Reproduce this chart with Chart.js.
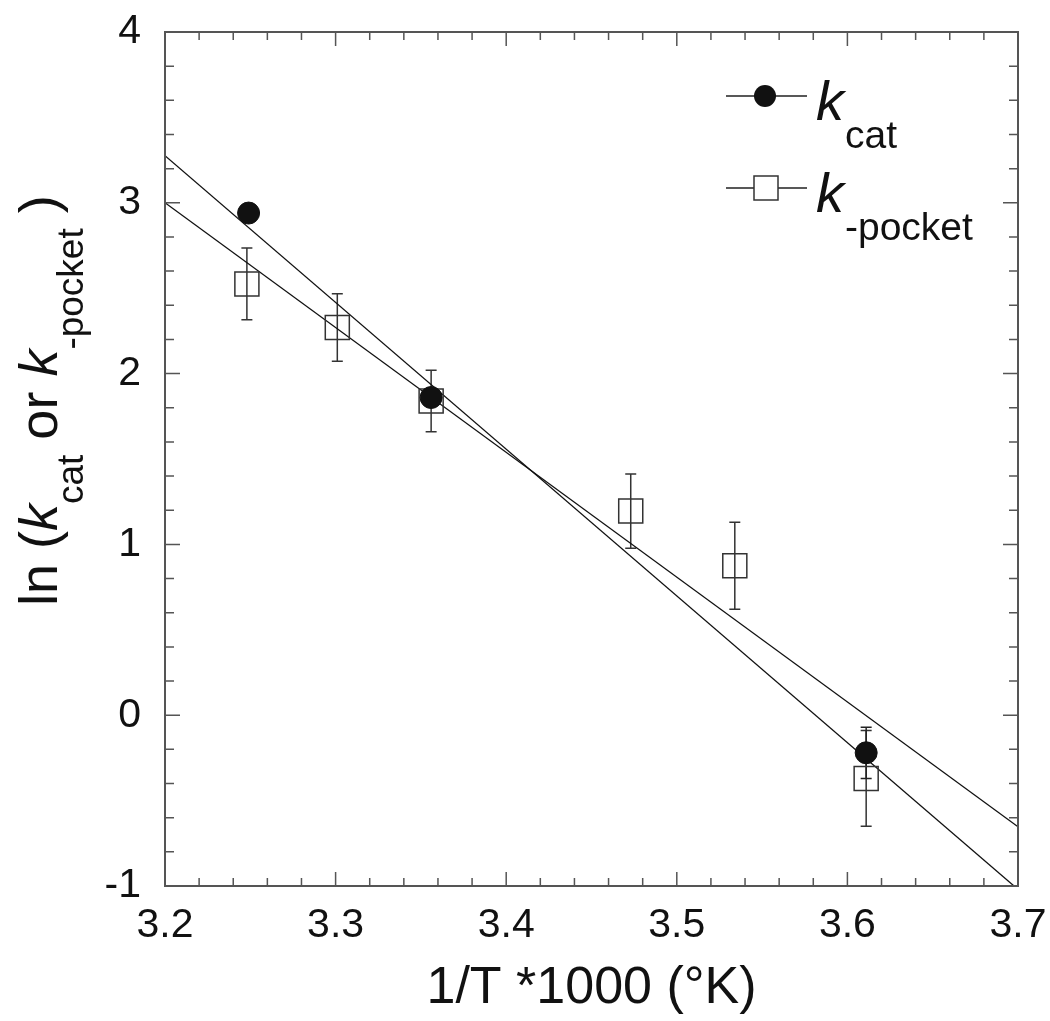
<!DOCTYPE html>
<html>
<head>
<meta charset="utf-8">
<script src="https://cdn.jsdelivr.net/npm/chart.js@4.4.0/dist/chart.umd.min.js"></script>
<style>
    html, body { margin: 0; padding: 0; background: #fff; }
    #wrap { width: 1050px; height: 1021px; }
</style>
</head>
<body>
<div id="wrap"><canvas id="arrhenius" width="1050" height="1021"></canvas></div>
<script>
// Arrhenius plot - ln(kcat) and ln(k-pocket) vs 1/T
const FONT = "'Liberation Sans', Arial, Helvetica, sans-serif";

// measured points
const kcatX = [3.249, 3.356, 3.611];
const kcatY = [2.94, 1.86, -0.22];
const kcatErr = [0.05, 0.05, 0.15];

const pocketX = [3.248, 3.301, 3.356, 3.473, 3.534, 3.611];
const pocketY = [2.525, 2.27, 1.84, 1.195, 0.875, -0.37];
const pocketErr = [0.21, 0.197, 0.18, 0.217, 0.255, 0.28];

// linear fits, evaluated at the axis ends
const fitX = [3.2, 3.7];
const kcatFitY = [3.276, -1.02];
const pocketFitY = [3.0, -0.653];

// axes
const xMin = 3.2, xMax = 3.7, xStep = 0.1, xMinor = 0.02;
const yMin = -1, yMax = 4, yStep = 1, yMinor = 0.2;

function toPoints(xs, ys) {
    return xs.map((x, i) => ({ x: x, y: ys[i] }));
}

// error bars, inward ticks, frame, titles and legend
const decorations = {
    id: 'decorations',
    beforeDatasetsDraw(chart) {
        const ctx = chart.ctx;
        const xs = chart.scales.x, ys = chart.scales.y;
        const bars = [
            [pocketX, pocketY, pocketErr, '#333'],
            [kcatX, kcatY, kcatErr, '#222']
        ];
        ctx.save();
        ctx.lineWidth = 1.5;
        bars.forEach(([bx, by, be, col]) => {
            ctx.strokeStyle = col;
            bx.forEach((x, i) => {
                const px = xs.getPixelForValue(x);
                const top = ys.getPixelForValue(by[i] + be[i]);
                const bot = ys.getPixelForValue(by[i] - be[i]);
                ctx.beginPath();
                ctx.moveTo(px, top); ctx.lineTo(px, bot);
                ctx.moveTo(px - 5.5, top); ctx.lineTo(px + 5.5, top);
                ctx.moveTo(px - 5.5, bot); ctx.lineTo(px + 5.5, bot);
                ctx.stroke();
            });
        });
        ctx.restore();
    },
    afterDraw(chart) {
        const ctx = chart.ctx;
        const a = chart.chartArea;
        const xs = chart.scales.x, ys = chart.scales.y;
        ctx.save();

        // frame
        ctx.strokeStyle = '#555';
        ctx.lineWidth = 2;
        ctx.strokeRect(a.left, a.top, a.right - a.left, a.bottom - a.top);

        // inward ticks on all four sides
        ctx.lineWidth = 1.5;
        ctx.beginPath();
        const nx = Math.round((xMax - xMin) / xMinor);
        for (let i = 1; i < nx; i++) {
            const v = xMin + i * xMinor;
            const len = (i % 5 === 0) ? 14 : 8;
            const px = xs.getPixelForValue(v);
            ctx.moveTo(px, a.bottom); ctx.lineTo(px, a.bottom - len);
            ctx.moveTo(px, a.top); ctx.lineTo(px, a.top + len);
        }
        const ny = Math.round((yMax - yMin) / yMinor);
        for (let i = 1; i < ny; i++) {
            const v = yMin + i * yMinor;
            const len = (i % 5 === 0) ? 15 : 9;
            const py = ys.getPixelForValue(v);
            ctx.moveTo(a.left, py); ctx.lineTo(a.left + len, py);
            ctx.moveTo(a.right, py); ctx.lineTo(a.right - len, py);
        }
        ctx.stroke();

        ctx.fillStyle = '#111';
        ctx.textBaseline = 'alphabetic';

        // x title
        ctx.font = '52px ' + FONT;
        ctx.textAlign = 'center';
        ctx.fillText('1/T *1000 (\u00B0K)', (a.left + a.right) / 2, 1003);

        // y title, rotated, with subscripts
        ctx.textAlign = 'left';
        ctx.translate(57, 606);
        ctx.rotate(-Math.PI / 2);
        const pieces = [
            ['ln (', '54px ' + FONT, 0],
            ['k', 'italic 54px ' + FONT, 0],
            ['cat', '37px ' + FONT, 26],
            [' or ', '54px ' + FONT, 0],
            ['k', 'italic 54px ' + FONT, 0],
            ['-pocket', '37px ' + FONT, 26],
            [' )', '54px ' + FONT, 0]
        ];
        let cx = 0;
        pieces.forEach(([t, f, dy]) => {
            ctx.font = f;
            ctx.fillText(t, cx, dy);
            cx += ctx.measureText(t).width;
        });
        ctx.setTransform(1, 0, 0, 1, 0, 0);

        // legend
        ctx.strokeStyle = '#222';
        ctx.lineWidth = 1.5;
        ctx.beginPath();
        ctx.moveTo(726, 96); ctx.lineTo(807, 96);
        ctx.moveTo(726, 188); ctx.lineTo(807, 188);
        ctx.stroke();
        ctx.beginPath();
        ctx.arc(765, 96, 11, 0, Math.PI * 2);
        ctx.fill();
        ctx.fillStyle = '#fff';
        ctx.fillRect(754, 176, 24, 24);
        ctx.strokeStyle = '#333';
        ctx.strokeRect(754, 176, 24, 24);
        ctx.fillStyle = '#111';
        ctx.font = 'italic 56px ' + FONT;
        ctx.fillText('k', 816, 120);
        ctx.fillText('k', 816, 212);
        ctx.font = '39px ' + FONT;
        ctx.fillText('cat', 845, 148);
        ctx.fillText('-pocket', 845, 240);

        ctx.restore();
    }
};

const ctx = document.getElementById('arrhenius').getContext('2d');
const arrheniusChart = new Chart(ctx, {
    type: 'scatter',
    data: {
        datasets: [{
            label: 'kcat',
            data: toPoints(kcatX, kcatY),
            pointStyle: 'circle',
            pointRadius: 11,
            backgroundColor: '#111',
            borderColor: '#111',
            borderWidth: 1,
            order: 0
        }, {
            label: 'k-pocket',
            data: toPoints(pocketX, pocketY),
            pointStyle: 'rect',
            pointRadius: 17,
            backgroundColor: 'rgba(0,0,0,0)',
            borderColor: '#333',
            borderWidth: 1.5,
            order: 1
        }, {
            type: 'line',
            label: 'kcat fit',
            data: toPoints(fitX, kcatFitY),
            borderColor: '#111',
            borderWidth: 1.3,
            pointRadius: 0,
            fill: false,
            order: 2
        }, {
            type: 'line',
            label: 'k-pocket fit',
            data: toPoints(fitX, pocketFitY),
            borderColor: '#111',
            borderWidth: 1.3,
            pointRadius: 0,
            fill: false,
            order: 2
        }]
    },
    options: {
        responsive: false,
        animation: false,
        devicePixelRatio: 1,
        layout: { padding: { left: 0, top: 32, right: 32, bottom: 0 } },
        plugins: {
            legend: { display: false },
            tooltip: { enabled: false }
        },
        scales: {
            x: {
                type: 'linear',
                min: xMin,
                max: xMax,
                afterFit: s => { s.height = 135; s.paddingLeft = 0; s.paddingRight = 0; },
                grid: { drawOnChartArea: false, drawTicks: false },
                border: { display: false },
                ticks: {
                    stepSize: xStep,
                    padding: 15,
                    color: '#111',
                    font: { family: FONT, size: 41 },
                    callback: v => v.toFixed(1)
                }
            },
            y: {
                type: 'linear',
                min: yMin,
                max: yMax,
                afterFit: s => { s.width = 165; s.paddingTop = 0; s.paddingBottom = 0; },
                grid: { drawOnChartArea: false, drawTicks: false },
                border: { display: false },
                ticks: {
                    stepSize: yStep,
                    padding: 24,
                    color: '#111',
                    font: { family: FONT, size: 41 },
                    callback: v => String(v)
                }
            }
        }
    },
    plugins: [decorations]
});
</script>
</body>
</html>
